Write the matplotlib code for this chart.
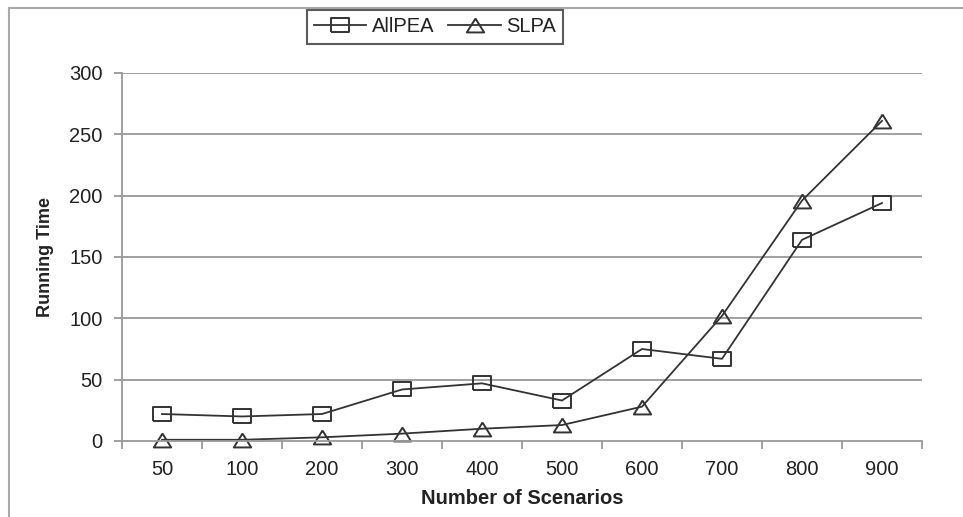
import numpy as np
import matplotlib.pyplot as plt
from matplotlib.lines import Line2D

plt.rcParams['font.family'] = ['Liberation Sans', 'DejaVu Sans']

# Running time per number of scenarios
scenarios = ['50', '100', '200', '300', '400', '500', '600', '700', '800', '900']
allpea = [22, 20, 22, 42, 47, 33, 75, 67, 164, 194]
slpa = [1, 1, 3, 6, 10, 13, 28, 102, 196, 261]
yticks = [0, 50, 100, 150, 200, 250, 300]

line_c = '#333333'
grid_c = '#999999'
text_c = '#222222'

# wide square / triangle markers
box = [(-1, -0.75), (1, -0.75), (1, 0.75), (-1, 0.75), (-1, -0.75)]
tri = [(0, 0.8), (-1, -0.8), (1, -0.8), (0, 0.8)]

fig = plt.figure(figsize=(9.63, 5.17), dpi=100)
ax = fig.add_axes([122/963, 76/517, 800/963, 368/517])

x = np.arange(len(scenarios))
ax.plot(x, allpea, '-', marker=box, ms=12.5, mfc='none', mec=line_c, mew=1.4,
        color=line_c, lw=1.3, label='AllPEA', clip_on=False)
ax.plot(x, slpa, '-', marker=tri, ms=12.5, mfc='none', mec=line_c, mew=1.4,
        color=line_c, lw=1.3, label='SLPA', clip_on=False)

ax.set_xlim(-0.5, len(scenarios) - 0.5)
ax.set_ylim(0, 300)
ax.set_yticks(yticks)
for yv in yticks[1:]:
    ax.axhline(yv, color=grid_c, lw=1.3, zorder=0)

ax.set_xticks(x)
ax.set_xticklabels(scenarios)
ax.set_xticks(np.arange(-0.5, len(scenarios)), minor=True)
ax.tick_params(axis='x', which='major', length=0, pad=14, labelsize=14.5, labelcolor=text_c)
ax.tick_params(axis='x', which='minor', length=6, width=1.3, color=grid_c, direction='out')
ax.tick_params(axis='y', length=6, width=1.3, color=grid_c, labelsize=14.5, labelcolor=text_c, pad=8)

for s in ['top', 'right']:
    ax.spines[s].set_visible(False)
for s in ['left', 'bottom']:
    ax.spines[s].set_color(grid_c)
    ax.spines[s].set_linewidth(1.3)

ax.set_xlabel('Number of Scenarios', fontsize=14.5, fontweight='bold', color=text_c)
ax.xaxis.set_label_coords(0.5, -0.155)
ax.xaxis.label.set_va('center')
ax.set_ylabel('Running Time', fontsize=13, fontweight='bold', color=text_c)
ax.yaxis.set_label_coords(-0.096, 0.5)
ax.yaxis.label.set_va('center')

leg = fig.legend(loc='center', bbox_to_anchor=(435/963, 1 - 27/517), ncol=2,
                 fontsize=14.5, frameon=True, fancybox=False, handlelength=2.6,
                 handletextpad=0.27, columnspacing=0.7, borderpad=0.35,
                 labelcolor=text_c)
leg.get_frame().set_edgecolor('#333333')
leg.get_frame().set_linewidth(1.5)

# Outer frame on the left and top edges
fig.add_artist(Line2D([9/963, 9/963], [0, 1 - 8/517], color='#aaaaaa', lw=1.5))
fig.add_artist(Line2D([9/963, 1], [1 - 8/517, 1 - 8/517], color='#aaaaaa', lw=1.5))

fig.savefig('out.png', dpi=100)
plt.close(fig)
